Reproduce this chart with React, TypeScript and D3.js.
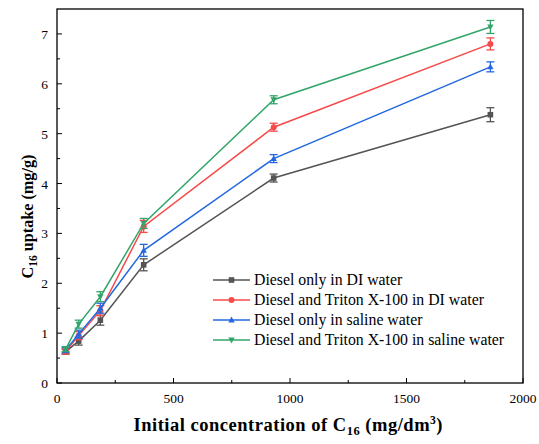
import React from "react";
import * as d3 from "d3";

const concentrations = [37, 93, 186, 372, 930, 1860];
const seriesNames = [
  "Diesel only in DI water",
  "Diesel and Triton X-100 in DI water",
  "Diesel only in saline water",
  "Diesel and Triton X-100 in saline water",
];
const dieselDI = [0.63, 0.84, 1.26, 2.37, 4.11, 5.38];
const dieselDIErr = [0.05, 0.08, 0.1, 0.12, 0.08, 0.14];
const tritonDI = [0.63, 0.95, 1.45, 3.14, 5.13, 6.8];
const tritonDIErr = [0.05, 0.08, 0.1, 0.12, 0.08, 0.12];
const dieselSaline = [0.66, 0.98, 1.5, 2.66, 4.5, 6.34];
const dieselSalineErr = [0.05, 0.08, 0.1, 0.12, 0.08, 0.1];
const tritonSaline = [0.68, 1.18, 1.73, 3.2, 5.68, 7.14];
const tritonSalineErr = [0.05, 0.08, 0.1, 0.1, 0.08, 0.13];
const xTicks = [0, 500, 1000, 1500, 2000];
const yTicks = [0, 1, 2, 3, 4, 5, 6, 7];

const colors = ["#545454", "#f64a4a", "#2368e0", "#33a56a"];
const markers = ["square", "circle", "up", "down"];

const FONT = '"Times New Roman", Times, "Liberation Serif", "Noto Serif", "DejaVu Serif", serif';
const tStyle = { fontFamily: FONT };

function Marker({ kind, x, y, color }: { kind: string; x: number; y: number; color: string }) {
  const s = 2.8;
  if (kind === "square") return <rect x={x - s} y={y - s} width={2 * s} height={2 * s} fill={color} />;
  if (kind === "circle") return <circle cx={x} cy={y} r={s + 0.2} fill={color} />;
  if (kind === "up")
    return <path d={`M${x},${y - s - 0.6}L${x + s + 0.4},${y + s - 0.4}L${x - s - 0.4},${y + s - 0.4}Z`} fill={color} />;
  return <path d={`M${x},${y + s + 0.6}L${x + s + 0.4},${y - s + 0.4}L${x - s - 0.4},${y - s + 0.4}Z`} fill={color} />;
}

export default function App() {
  const W = 539, H = 444;
  const left = 57, right = 523, top = 9, bottom = 383;
  const x = d3.scaleLinear().domain([0, 2000]).range([left, right]);
  const y = d3.scaleLinear().domain([0, 7.5]).range([bottom, top]);
  const values = [dieselDI, tritonDI, dieselSaline, tritonSaline];
  const errs = [dieselDIErr, tritonDIErr, dieselSalineErr, tritonSalineErr];
  const line = d3.line<number>().x((_, i) => x(concentrations[i])).y((d) => y(d));
  const xMinor = d3.range(250, 2000, 500);
  const yMinor = d3.range(0.5, 7.5, 1);

  return (
    <div style={{ position: "absolute", left: 0, top: 0 }}>
      <svg width={W} height={H} style={{ display: "block", background: "#fff", fontFamily: FONT }}>
        {/* ticks */}
        {xTicks.map((t) => (
          <g key={"xt" + t}>
            <line x1={x(t)} x2={x(t)} y1={bottom} y2={bottom - 5} stroke="#000" strokeWidth={1} />
            <text x={x(t)} y={403} fontSize={13.5} textAnchor="middle" style={tStyle}>{t}</text>
          </g>
        ))}
        {xMinor.map((t) => (
          <line key={"xm" + t} x1={x(t)} x2={x(t)} y1={bottom} y2={bottom - 3} stroke="#000" strokeWidth={1} />
        ))}
        {yTicks.map((t) => (
          <g key={"yt" + t}>
            <line x1={left} x2={left + 5} y1={y(t)} y2={y(t)} stroke="#000" strokeWidth={1} />
            <text x={48} y={y(t) + 5} fontSize={13.5} textAnchor="end" style={tStyle}>{t}</text>
          </g>
        ))}
        {yMinor.map((t) => (
          <line key={"ym" + t} x1={left} x2={left + 3} y1={y(t)} y2={y(t)} stroke="#000" strokeWidth={1} />
        ))}

        {/* series */}
        {values.map((vals, si) => (
          <g key={"s" + si}>
            <path d={line(vals) || ""} fill="none" stroke={colors[si]} strokeWidth={1.5} />
            {vals.map((v, i) => {
              const cx = x(concentrations[i]);
              const e = errs[si][i];
              return (
                <g key={i}>
                  <line x1={cx} x2={cx} y1={y(v - e)} y2={y(v + e)} stroke={colors[si]} strokeWidth={1.3} />
                  <line x1={cx - 4} x2={cx + 4} y1={y(v - e)} y2={y(v - e)} stroke={colors[si]} strokeWidth={1.3} />
                  <line x1={cx - 4} x2={cx + 4} y1={y(v + e)} y2={y(v + e)} stroke={colors[si]} strokeWidth={1.3} />
                  <Marker kind={markers[si]} x={cx} y={y(v)} color={colors[si]} />
                </g>
              );
            })}
          </g>
        ))}

        {/* frame */}
        <rect x={left} y={top} width={right - left} height={bottom - top} fill="none" stroke="#000" strokeWidth={1.3} />

        {/* legend */}
        {seriesNames.map((name, i) => {
          const ly = 280 + i * 20;
          return (
            <g key={"lg" + i}>
              <line x1={213} x2={250} y1={ly} y2={ly} stroke={colors[i]} strokeWidth={1.5} />
              <Marker kind={markers[i]} x={231.5} y={ly} color={colors[i]} />
              <text x={254} y={ly + 5} fontSize={15.8} style={tStyle}>{name}</text>
            </g>
          );
        })}

        {/* axis titles */}
        <text x={288} y={431} fontSize={18.5} fontWeight="bold" textAnchor="middle" style={tStyle}
          textLength={309} lengthAdjust="spacing">
          Initial concentration of C<tspan fontSize={12.5} dy={4}>16</tspan>
          <tspan dy={-4}> (mg/dm</tspan>
          <tspan fontSize={11.5} dy={-7}>3</tspan>
          <tspan dy={7}>)</tspan>
        </text>
        <text transform={`translate(33,200.5) rotate(-90)`} x={-78} y={0} fontSize={16.2} fontWeight="bold" style={tStyle}>
          C<tspan fontSize={11.5} dy={4}>16</tspan>
          <tspan dy={-4}> uptake (mg/g)</tspan>
        </text>
      </svg>
    </div>
  );
}
